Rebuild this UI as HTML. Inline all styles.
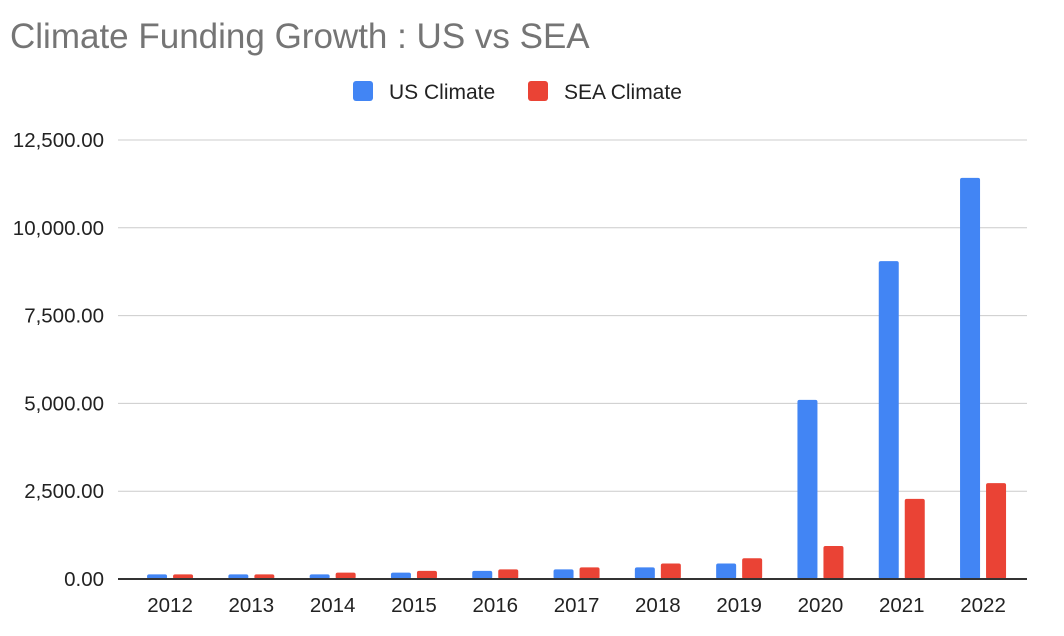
<!DOCTYPE html>
<html><head><meta charset="utf-8"><style>
body{margin:0;background:#fff;font-family:"Liberation Sans",Arial,sans-serif}
svg{display:block}
</style></head><body>
<svg id="chart" width="1064" height="636">
<text x="10" y="48" font-size="35" fill="#757575">Climate Funding Growth : US vs SEA</text>
<g>
<rect x="353" y="81" width="20" height="20" rx="3" fill="#4285f4"/>
<text x="389" y="99" font-size="21" fill="#222">US Climate</text>
<rect x="528" y="81" width="20" height="20" rx="3" fill="#ea4335"/>
<text x="564" y="99" font-size="21" fill="#222">SEA Climate</text>
</g>
<g id="grid"></g><g id="bars"></g><g id="xlabels"></g>
</svg>
<script>
const categories=["2012","2013","2014","2015","2016","2017","2018","2019","2020","2021","2022"];
const usValues=[130,130,130,180,230,275,330,440,5100,9050,11420];
const seaValues=[130,130,180,230,275,330,440,590,940,2280,2730];
const yTicks=[0,2500,5000,7500,10000,12500];
const yTickLabels=["0.00","2,500.00","5,000.00","7,500.00","10,000.00","12,500.00"];
const NS="http://www.w3.org/2000/svg";
const x0=118,x1=1027,yBase=579,yTop=140,yMax=12500;
const catStart=129.4,band=81.3;
const y=v=>yBase-(v/yMax)*(yBase-yTop);
function mk(tag,attrs,parent){const e=document.createElementNS(NS,tag);for(const k in attrs)e.setAttribute(k,attrs[k]);parent.appendChild(e);return e;}
const grid=document.getElementById('grid');
yTicks.forEach((t,i)=>{
 if(t!==0){const l=mk('line',{x1:x0,x2:x1,y1:y(t),y2:y(t),stroke:'#cccccc','stroke-width':1},grid);
 
 }
 const tx=mk('text',{x:104,y:y(t)+7,'text-anchor':'end','font-size':20.5,fill:'#222'},grid);
 tx.textContent=yTickLabels[i];
 
 
});
const bars=document.getElementById('bars');
const bw=20,gap=6;
categories.forEach((c,i)=>{
 const cx=catStart+band*(i+0.5);
 const r1=mk('rect',{x:cx-gap/2-bw,y:y(usValues[i]),width:bw,height:yBase-y(usValues[i]),rx:2,fill:'#4285f4'},bars);
 
 
 const r2=mk('rect',{x:cx+gap/2,y:y(seaValues[i]),width:bw,height:yBase-y(seaValues[i]),rx:2,fill:'#ea4335'},bars);
 
 
 const tx=mk('text',{x:cx,y:612,'text-anchor':'middle','font-size':20.5,fill:'#222'},document.getElementById('xlabels'));
 tx.textContent=c;
 
 
});
const ax=mk('line',{x1:x0,x2:x1,y1:yBase,y2:yBase,stroke:'#333','stroke-width':2},document.getElementById('chart'));


</script>
</body></html>
